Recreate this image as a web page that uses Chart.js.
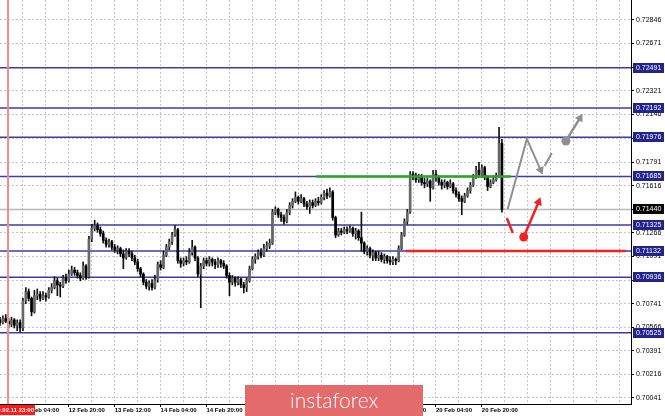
<!DOCTYPE html>
<html>
<head>
<meta charset="utf-8">
<script src="https://cdn.jsdelivr.net/npm/chart.js"></script>
<style>
  body { margin: 0; background: #fff; }
  canvas { display: block; }
</style>
</head>
<body>
<canvas id="myChart" width="665" height="416"></canvas>
<script>
// H1 candles, price x 100000
const opens = [
  70620,70600,70630,70610,70590,70620,70580,70600,70560,70760,
  70830,70780,70680,70800,70810,70780,70800,70790,70840,70860,
  70910,70880,70870,70930,70910,70960,70990,70970,70950,70930,
  71020,70940,71220,71300,71320,71290,71260,71210,71180,71200,
  71160,71140,71150,71110,71080,71130,71110,71080,71050,71000,
  70960,70900,70870,70890,70860,70920,71030,71010,71100,71160,
  71200,71250,71290,71060,71040,71060,71050,71120,71160,71080,
  70960,71020,71060,71040,71070,71050,71030,71060,71040,71020,
  70950,70900,70930,70900,70920,70880,70860,70910,71000,71070,
  71090,71120,71100,71150,71170,71190,71420,71440,71400,71380,
  71350,71420,71470,71500,71530,71500,71520,71480,71460,71490,
  71470,71500,71490,71530,71560,71540,71570,71380,71250,71280,
  71270,71290,71280,71300,71260,71280,71230,71190,71130,71150,
  71100,71120,71080,71100,71070,71090,71060,71050,71070,71060,
  71150,71250,71350,71420,71700,71690,71660,71680,71640,71630,
  71650,71600,71700,71680,71640,71620,71640,71610,71630,71580,
  71550,71520,71500,71540,71580,71620,71680,71730,71700,71750,
  71680,71610,71640,71660,71690,71930
];
const highs = [
  70640,70650,70660,70630,70640,70630,70620,70620,70780,70860,
  70850,70790,70840,70850,70830,70830,70820,70860,70890,70940,
  70930,70900,70950,70960,70990,71020,71010,70990,70970,71050,
  71030,71240,71330,71360,71340,71310,71280,71230,71220,71210,
  71180,71170,71160,71140,71150,71150,71130,71100,71070,71010,
  70970,70920,70910,70920,70950,71050,71060,71130,71180,71220,
  71270,71320,71300,71080,71080,71090,71150,71210,71170,71090,
  71040,71080,71080,71090,71080,71070,71080,71070,71060,71030,
  70970,70950,70940,70940,70930,70900,70930,71020,71090,71110,
  71140,71150,71180,71200,71220,71440,71460,71450,71420,71400,
  71440,71490,71520,71570,71540,71550,71530,71500,71510,71510,
  71520,71530,71550,71580,71590,71600,71580,71390,71300,71300,
  71310,71310,71320,71310,71300,71290,71420,71200,71170,71160,
  71140,71130,71130,71120,71110,71100,71090,71090,71080,71170,
  71270,71370,71440,71720,71720,71710,71700,71700,71670,71670,
  71660,71730,71730,71690,71660,71660,71650,71660,71640,71600,
  71570,71540,71560,71600,71640,71700,71760,71790,71770,71760,
  71690,71660,71690,71710,72050,71960
];
const lows = [
  70580,70590,70600,70560,70570,70560,70540,70530,70540,70740,
  70760,70650,70670,70770,70760,70770,70760,70780,70820,70850,
  70800,70790,70860,70890,70900,70950,70950,70930,70910,70920,
  70920,70930,71200,71280,71270,71240,71190,71160,71160,71140,
  71120,71110,71090,71000,71070,71090,71060,71030,70980,70940,
  70880,70850,70840,70840,70850,70900,70990,71000,71090,71140,
  71180,71240,71040,71010,71020,71030,71040,71100,71060,70940,
  70710,71000,71020,71020,71020,71000,71010,71010,71000,70930,
  70800,70880,70870,70880,70860,70820,70830,70900,70990,71040,
  71070,71080,71090,71130,71150,71180,71400,71380,71350,71330,
  71340,71400,71450,71490,71480,71490,71460,71440,71410,71450,
  71460,71470,71480,71510,71520,71530,71360,71230,71240,71250,
  71260,71260,71270,71240,71220,71210,71130,71110,71100,71080,
  71060,71060,71060,71050,71040,71040,71030,71030,71030,71050,
  71140,71240,71330,71410,71660,71640,71640,71620,71600,71610,
  71500,71590,71650,71620,71590,71600,71590,71600,71560,71530,
  71500,71400,71490,71530,71560,71610,71670,71680,71680,71660,
  71580,71600,71630,71650,71680,71420
];
const closes = [
  70600,70630,70610,70590,70620,70580,70600,70560,70760,70830,
  70780,70680,70800,70810,70780,70800,70790,70840,70860,70910,
  70880,70870,70930,70910,70960,70990,70970,70950,70930,71020,
  70940,71220,71300,71320,71290,71260,71210,71180,71200,71160,
  71140,71150,71110,71080,71130,71110,71080,71050,71000,70960,
  70900,70870,70890,70860,70920,71030,71010,71100,71160,71200,
  71250,71290,71060,71040,71060,71050,71120,71160,71080,70960,
  71020,71060,71040,71070,71050,71030,71060,71040,71020,70950,
  70900,70930,70900,70920,70880,70860,70910,71000,71070,71090,
  71120,71100,71150,71170,71190,71420,71440,71400,71380,71350,
  71420,71470,71500,71530,71500,71520,71480,71460,71490,71470,
  71500,71490,71530,71560,71540,71570,71380,71250,71280,71270,
  71290,71280,71300,71260,71280,71230,71190,71130,71150,71100,
  71120,71080,71100,71070,71090,71060,71050,71070,71060,71150,
  71250,71350,71420,71700,71690,71660,71680,71640,71630,71650,
  71600,71700,71680,71640,71620,71640,71610,71630,71580,71550,
  71520,71500,71540,71580,71620,71680,71730,71700,71750,71680,
  71610,71640,71660,71690,71930,71440
];

const yTicks = [0.70041, 0.70216, 0.70391, 0.70566, 0.70741, 0.70916, 0.71091, 0.71266,
  0.71441, 0.71616, 0.71791, 0.71966, 0.72146, 0.72321, 0.72496, 0.72671, 0.72846];
const xTickPos = [8, 24, 40, 56, 72, 88, 104, 120, 136, 152, 168];
const xTickLabels = ['12 Feb 04:00', '12 Feb 20:00', '13 Feb 12:00', '14 Feb 04:00', '14 Feb 20:00',
  '17 Feb 12:00', '18 Feb 04:00', '18 Feb 20:00', '19 Feb 12:00', '20 Feb 04:00', '20 Feb 20:00'];
const sepLabel = '2020.02.11 23:00';
const sepX = 2.8;

const levels = [0.72491, 0.72192, 0.71976, 0.71685, 0.71325, 0.71132, 0.70936, 0.70525];
const lastPrice = 0.71440;
const resistance = 0.71685;   // green
const support = 0.71132;      // red

// forecast sketch (x = bar index, y = price)
const grayPath = [{x: 177.0, y: 0.71443}, {x: 183.7, y: 0.71963}, {x: 188.5, y: 0.71732}];
const grayDash = [{x: 189.9, y: 0.71762}, {x: 192.4, y: 0.71859}];
const grayUp = [{x: 197.3, y: 0.71948}, {x: 202.2, y: 0.72118}];
const redDash = [{x: 176.7, y: 0.71376}, {x: 178.8, y: 0.71265}];
const redUp = [{x: 182.6, y: 0.71235}, {x: 187.8, y: 0.71495}];

const X_MAX = 220, Y_MIN = 0.69996, Y_MAX = 0.72994;

const wicks = closes.map((c, i) => ({x: i, y: [lows[i] / 1e5, highs[i] / 1e5]}));
const bodies = closes.map((c, i) => ({x: i, y: [opens[i] / 1e5, c / 1e5]}));
const bodyColors = closes.map((c, i) => c >= opens[i] ? '#666' : '#000');

function hline(y, x0, x1, color, width, order) {
  return {type: 'line', data: [{x: x0, y: y}, {x: x1, y: y}], borderColor: color,
    borderWidth: width, pointRadius: 0, order: order};
}

const datasets = [];
levels.forEach(l => datasets.push(hline(l, 0, X_MAX, '#3d3da8', 1.5, 10)));
datasets.push(hline(lastPrice, 0, X_MAX, '#b8b8b8', 1.5, 10));
datasets.push({type: 'bar', data: wicks, backgroundColor: '#111', barThickness: 1, grouped: false, order: 6});
datasets.push({type: 'bar', data: bodies, backgroundColor: bodyColors, barThickness: 2, minBarLength: 1, grouped: false, order: 5});
datasets.push({type: 'line', data: [{x: sepX, y: Y_MIN}, {x: sepX, y: Y_MAX}], borderColor: '#f28a8a', borderWidth: 2, pointRadius: 0, order: 4});
datasets.push(hline(resistance, 110.3, 178.1, '#2aa82a', 2.5, 3));
datasets.push(hline(support, 141.4, 218.2, '#ee2222', 2.5, 3));
datasets.push({type: 'line', data: grayPath, borderColor: '#8f8f8f', borderWidth: 2,
  pointStyle: 'triangle', pointRadius: [0, 0, 5], pointRotation: [0, 0, 156],
  pointBackgroundColor: '#8f8f8f', pointBorderWidth: 0, order: 1});
datasets.push({type: 'line', data: grayDash, borderColor: '#8f8f8f', borderWidth: 2, pointRadius: 0, order: 1});
datasets.push({type: 'line', data: grayUp, borderColor: '#8f8f8f', borderWidth: 2.5,
  pointStyle: ['circle', 'triangle'], pointRadius: [4.5, 5], pointRotation: [0, 31],
  pointBackgroundColor: '#8f8f8f', pointBorderWidth: 0, order: 1});
datasets.push({type: 'line', data: redDash, borderColor: '#ee2222', borderWidth: 2.5, pointRadius: 0, order: 1});
datasets.push({type: 'line', data: redUp, borderColor: '#ee2222', borderWidth: 2.5,
  pointStyle: ['circle', 'triangle'], pointRadius: [4.5, 5], pointRotation: [0, 21],
  pointBackgroundColor: '#ee2222', pointBorderWidth: 0, order: 1});

const overlay = {
  id: 'overlay',
  afterDraw(chart) {
    const ctx = chart.ctx;
    const yS = chart.scales.y;
    const right = chart.chartArea.right;
    ctx.save();
    ctx.font = '7px "Liberation Sans"';
    ctx.textBaseline = 'middle';
    ctx.textAlign = 'left';
    const box = (v, color) => {
      const y = Math.round(yS.getPixelForValue(v));
      ctx.fillStyle = color;
      ctx.fillRect(right + 2, y - 5, 31, 10);
      ctx.fillStyle = '#fff';
      ctx.fillText(v.toFixed(5), right + 5, y + 0.5);
    };
    levels.forEach(v => box(v, '#23238c'));
    box(lastPrice, '#000');

    // period separator label
    const bottom = chart.chartArea.bottom;
    ctx.fillStyle = '#ff1a1a';
    ctx.fillRect(0, bottom + 1, 35, 10);
    ctx.fillStyle = '#fff';
    ctx.font = 'bold 6px "Liberation Sans"';
    ctx.textAlign = 'right';
    ctx.fillText(sepLabel, 34, bottom + 6.5);

    // logo
    ctx.fillStyle = '#e36b6b';
    ctx.fillRect(245, 385, 178, 31);
    ctx.fillStyle = '#fff';
    ctx.font = '300 21px Lato';
    ctx.textAlign = 'left';
    ctx.textBaseline = 'alphabetic';
    ctx.fillText('instaforex', 290, 408);
    ctx.restore();
  }
};

Chart.defaults.font.family = '"Liberation Sans"';
Chart.defaults.color = '#000';

new Chart(document.getElementById('myChart'), {
  type: 'bar',
  data: {datasets: datasets},
  options: {
    responsive: false,
    animation: false,
    events: [],
    layout: {padding: 0, autoPadding: false},
    plugins: {legend: {display: false}, tooltip: {enabled: false}},
    scales: {
      x: {
        type: 'linear', min: 0, max: X_MAX, offset: false,
        afterBuildTicks: s => { s.ticks = []; for (let v = 8; v < X_MAX; v += 8) s.ticks.push({value: v}); },
        afterFit: s => { s.height = 12; s.paddingLeft = 0; s.paddingRight = 0; },
        grid: {
          offset: false, color: '#c6c6c6', lineWidth: 1, tickLength: 3,
          tickColor: c => (xTickPos.includes(c.tick && c.tick.value) ? '#000' : 'rgba(0,0,0,0)')
        },
        border: {display: true, color: '#000', width: 1, dash: [2, 2]},
        ticks: {
          autoSkip: false, maxRotation: 0, align: 'start', padding: 0,
          font: {size: 6, weight: 'bold'},
          callback: v => { const k = xTickPos.indexOf(v); return k >= 0 ? xTickLabels[k] : ''; }
        }
      },
      y: {
        type: 'linear', position: 'right', min: Y_MIN, max: Y_MAX,
        afterBuildTicks: s => { s.ticks = yTicks.map(v => ({value: v})); },
        afterFit: s => { s.width = 34; s.paddingTop = 0; s.paddingBottom = 0; },
        grid: {color: '#c6c6c6', lineWidth: 1, tickLength: 3, tickColor: '#000'},
        border: {display: true, color: '#000', width: 1, dash: [2, 2]},
        ticks: {padding: 2, font: {size: 7}, callback: v => v.toFixed(5)}
      }
    }
  },
  plugins: [overlay]
});
</script>
</body>
</html>
